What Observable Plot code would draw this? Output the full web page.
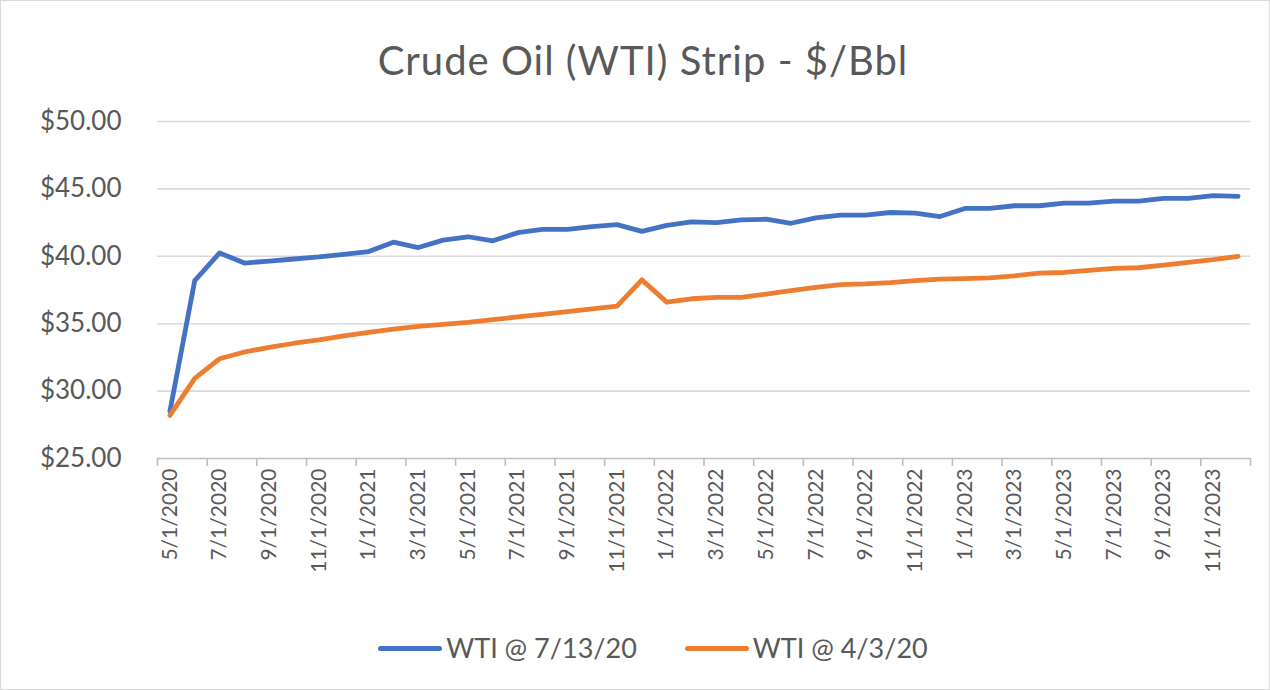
<!DOCTYPE html>
<html>
<head>
<meta charset="utf-8">
<script src="https://cdn.jsdelivr.net/npm/d3@7"></script>
<script src="https://cdn.jsdelivr.net/npm/@observablehq/plot@0.6"></script>
<style>
  body { margin: 0; background: #fff; }
  #frame { width: 1270px; height: 690px; box-sizing: border-box; border: 1px solid #d9d9d9; position: relative; font-family: Lato, "Open Sans", sans-serif; color: #595959; background: #fff; overflow: hidden; }
  #title { position: absolute; top: 35px; left: 0; width: 100%; text-align: center; font-size: 40px; line-height: 48px; letter-spacing: 1px; padding-left: 16px; box-sizing: border-box; }
  #chart { position: absolute; top: 100px; left: 0; }
  #legend { position: absolute; top: 630px; left: 0; width: 100%; box-sizing: border-box; padding-left: 36px; display: flex; justify-content: center; gap: 48px; font-size: 27px; line-height: 34px; }
  .item { display: flex; align-items: center; }
  .sw { width: 64px; height: 5px; border-radius: 3px; margin-right: 4px; }
</style>
</head>
<body>
<div id="frame">
  <div id="title">Crude Oil (WTI) Strip - $/Bbl</div>
  <div id="chart"></div>
  <div id="legend"></div>
</div>
<script>
const months = ["5/1/2020","6/1/2020","7/1/2020","8/1/2020","9/1/2020","10/1/2020","11/1/2020","12/1/2020",
  "1/1/2021","2/1/2021","3/1/2021","4/1/2021","5/1/2021","6/1/2021","7/1/2021","8/1/2021","9/1/2021","10/1/2021","11/1/2021","12/1/2021",
  "1/1/2022","2/1/2022","3/1/2022","4/1/2022","5/1/2022","6/1/2022","7/1/2022","8/1/2022","9/1/2022","10/1/2022","11/1/2022","12/1/2022",
  "1/1/2023","2/1/2023","3/1/2023","4/1/2023","5/1/2023","6/1/2023","7/1/2023","8/1/2023","9/1/2023","10/1/2023","11/1/2023","12/1/2023"];

const wtiJul = [28.5, 38.2, 40.25, 39.5, 39.65, 39.8, 39.95, 40.15, 40.35, 41.05, 40.65, 41.2, 41.45, 41.15, 41.75, 42.0, 42.0, 42.2, 42.35, 41.85,
  42.3, 42.55, 42.5, 42.7, 42.75, 42.45, 42.85, 43.05, 43.05, 43.25, 43.2, 42.95, 43.55, 43.55, 43.75, 43.75, 43.95, 43.95, 44.1, 44.1, 44.3, 44.3, 44.5, 44.45];

const wtiApr = [28.2, 30.95, 32.4, 32.9, 33.25, 33.55, 33.8, 34.1, 34.35, 34.6, 34.8, 34.95, 35.1, 35.3, 35.5, 35.7, 35.9, 36.1, 36.3, 38.25,
  36.6, 36.85, 36.95, 36.95, 37.2, 37.45, 37.7, 37.9, 37.95, 38.05, 38.2, 38.3, 38.35, 38.4, 38.55, 38.75, 38.8, 38.95, 39.1, 39.15, 39.35, 39.55, 39.75, 40.0];

const seriesNames = ["WTI @ 7/13/20", "WTI @ 4/3/20"];
const seriesColors = ["#4472C4", "#ED7D31"];
const yTicks = [25, 30, 35, 40, 45, 50];

const data = [];
months.forEach((m, i) => {
  data.push({idx: i, month: m, value: wtiJul[i], series: seriesNames[0]});
  data.push({idx: i, month: m, value: wtiApr[i], series: seriesNames[1]});
});

const labelPos = months.map((m, i) => i).filter(i => i % 2 === 0).map(i => i + 0.5);
const boundaries = d3.range(0, months.length + 1, 2);

const chart = Plot.plot({
  width: 1268,
  height: 500,
  marginLeft: 156,
  marginRight: 19,
  marginTop: 20,
  marginBottom: 143,
  style: {fontFamily: "Lato, 'Open Sans', sans-serif", color: "#595959", background: "transparent"},
  x: {type: "linear", domain: [0, months.length]},
  y: {domain: [25, 50]},
  color: {domain: seriesNames, range: seriesColors},
  marks: [
    Plot.ruleY(yTicks.filter(t => t > 25), {stroke: "#d9d9d9", strokeWidth: 1.6}),
    Plot.ruleY([25], {stroke: "#bfbfbf", strokeWidth: 1.6}),
    Plot.axisY({ticks: yTicks, tickFormat: d => "$" + d.toFixed(2), tickSize: 0, tickPadding: 36, fontSize: 26, fill: "#595959", label: null}),
    Plot.axisX({ticks: boundaries, tickFormat: () => "", tickSize: 8, stroke: "#bfbfbf", strokeWidth: 1.6, label: null}),
    Plot.axisX({ticks: labelPos, tickFormat: d => months[Math.round(d - 0.5)], tickSize: 0, tickPadding: 10, tickRotate: -90, fontSize: 21, fill: "#595959", label: null}),
    Plot.line(data, {x: d => d.idx + 0.5, y: "value", z: "series", stroke: "series", strokeWidth: 4.8, strokeLinejoin: "round", strokeLinecap: "round"})
  ]
});
document.getElementById("chart").appendChild(chart);

const legend = document.getElementById("legend");
seriesNames.forEach((name, k) => {
  const item = document.createElement("div");
  item.className = "item";
  const sw = document.createElement("div");
  sw.className = "sw";
  sw.style.background = seriesColors[k];
  const tx = document.createElement("span");
  tx.textContent = name;
  item.appendChild(sw);
  item.appendChild(tx);
  legend.appendChild(item);
});
</script>
</body>
</html>
